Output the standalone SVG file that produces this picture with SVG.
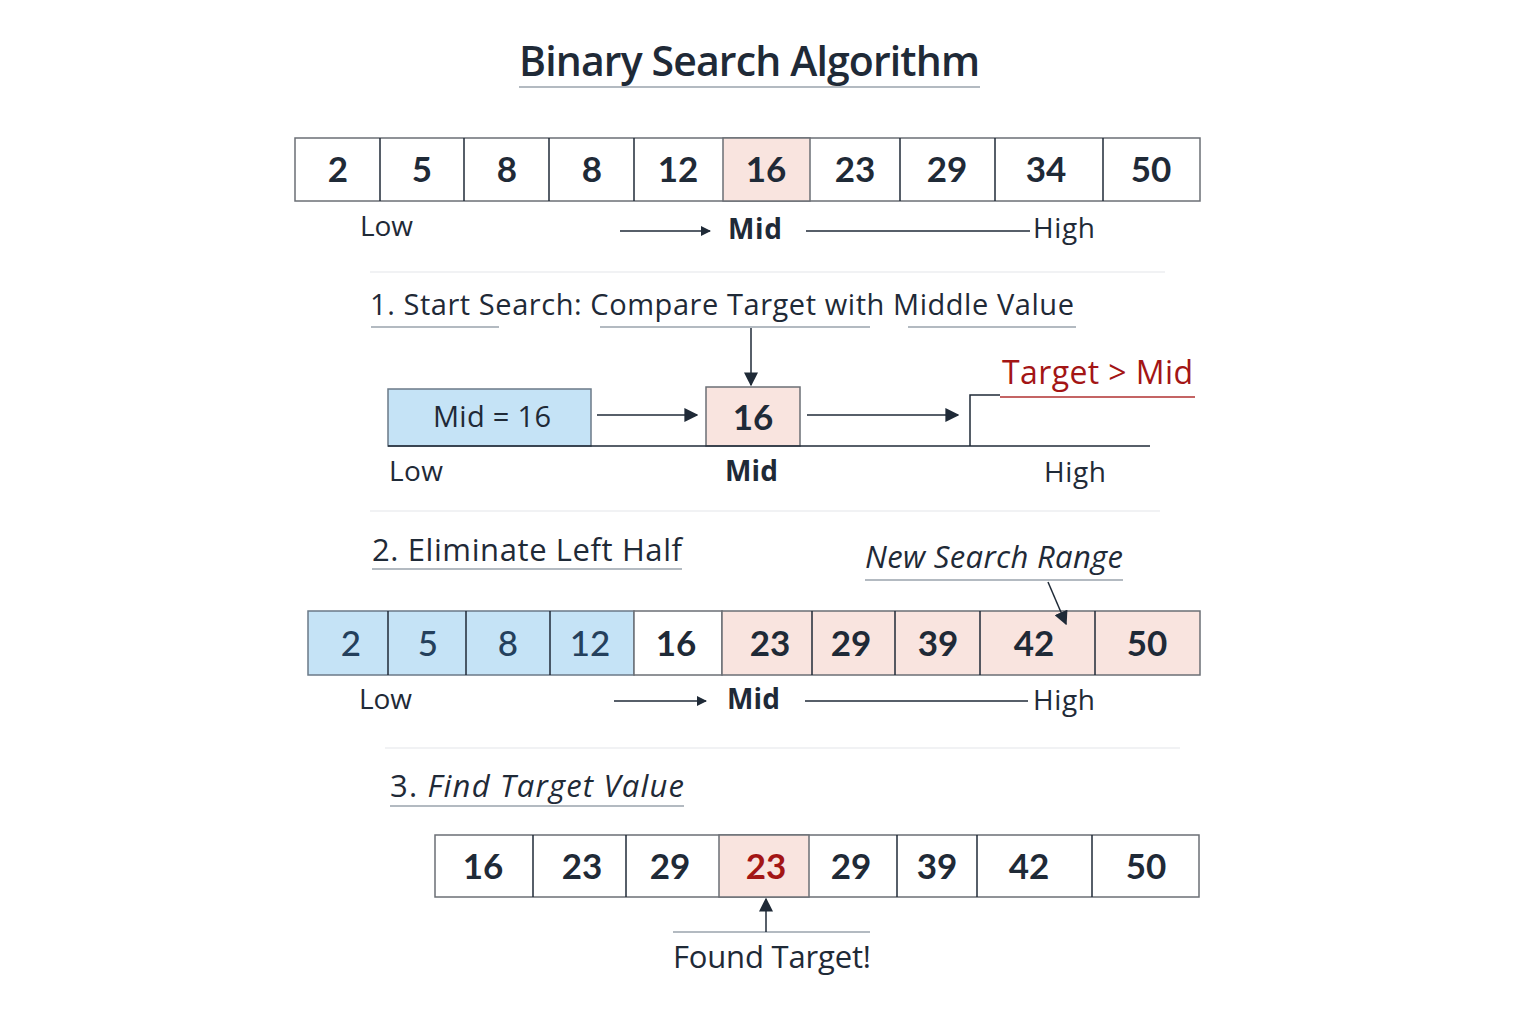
<svg xmlns="http://www.w3.org/2000/svg" width="1536" height="1024" viewBox="0 0 1536 1024">
<defs>
<marker id="ah" viewBox="0 0 10 10" refX="9" refY="5" markerWidth="10" markerHeight="10" markerUnits="userSpaceOnUse" orient="auto"><path d="M0,0 L10,5 L0,10 z" fill="#1f2a37"/></marker>
<marker id="ahb" viewBox="0 0 10 10" refX="9" refY="5" markerWidth="14" markerHeight="14" markerUnits="userSpaceOnUse" orient="auto"><path d="M0,0 L10,5 L0,10 z" fill="#1f2a37"/></marker>
</defs>
<style>
text{font-family:"Open Sans","Noto Sans","Liberation Sans",sans-serif;fill:#1f2a37}
.t{font-size:41px;font-weight:600}
.num{font-family:Lato,"Open Sans",sans-serif;font-size:35px;font-weight:700;text-anchor:middle}
.numb{font-family:Lato,"Open Sans",sans-serif;font-size:35px;font-weight:500;text-anchor:middle;fill:#24405c}
.lab{font-size:28px}
.labb{font-size:28px;font-weight:700}
.h{font-size:29px}
.h2{font-size:31px}
.it{font-style:italic}
.cell{fill:#fff;stroke:#6b6f75;stroke-width:1.5}
.pink{fill:#f9e4df;stroke:#6b6f75;stroke-width:1.5}
.blue{fill:#c5e3f6;stroke:#6b7a88;stroke-width:1.5}
.ln{stroke:#1f2a37;stroke-width:1.5;fill:none}
.ul{stroke:#9aa3ad;stroke-width:1.5;fill:none}
.sep{stroke:#eceef0;stroke-width:1.5}
.red{fill:#a31515}
</style>
<rect width="1536" height="1024" fill="#fff"/>
<g id="title">
<text class="t" x="519" y="76" textLength="461">Binary Search Algorithm</text>
<line class="ul" x1="519" y1="87" x2="980" y2="87" stroke="#a9b7c6"/>
</g>
<g id="row1">
<rect class="cell" x="295" y="138" width="905" height="63"/>
<rect class="pink" x="723" y="138" width="87" height="63"/>
<g class="ln" stroke="#6b6f75">
<line x1="380" y1="138" x2="380" y2="201"/><line x1="464" y1="138" x2="464" y2="201"/><line x1="549" y1="138" x2="549" y2="201"/><line x1="634" y1="138" x2="634" y2="201"/><line x1="900" y1="138" x2="900" y2="201"/><line x1="995" y1="138" x2="995" y2="201"/><line x1="1103" y1="138" x2="1103" y2="201"/>
</g>
<text class="num" x="338" y="182">2</text><text class="num" x="422" y="182">5</text><text class="num" x="507" y="182">8</text><text class="num" x="592" y="182">8</text><text class="num" x="678" y="182">12</text><text class="num" x="766" y="182">16</text><text class="num" x="855" y="182">23</text><text class="num" x="947" y="182">29</text><text class="num" x="1046" y="182">34</text><text class="num" x="1151" y="182">50</text>
<text class="lab" x="360" y="236" textLength="53">Low</text>
<text class="labb" x="728" y="239" textLength="54">Mid</text>
<text class="lab" x="1033" y="238" textLength="62">High</text>
</g>
<line class="sep" x1="370" y1="272" x2="1165" y2="272"/>
<g id="step1">
<text class="h" x="370" y="315" textLength="704">1. Start Search: Compare Target with Middle Value</text>
<g class="ul"><line x1="371" y1="327" x2="499" y2="327"/><line x1="600" y1="327" x2="870" y2="327"/><line x1="908" y1="327" x2="1076" y2="327"/></g>
<rect class="blue" x="388" y="389" width="203" height="57"/>
<text class="h" x="433" y="427" textLength="118">Mid = 16</text>
<rect class="pink" x="706" y="387" width="94" height="59" stroke="#2e3338"/>
<text class="num" x="753" y="430">16</text>
<polyline class="ln" points="1000,395 970,395 970,446" stroke="#8a9096"/>
<line class="ln" x1="388" y1="446" x2="1150" y2="446" stroke="#8a9096"/>
<text class="red" x="1002" y="384" font-size="32" textLength="191">Target &gt; Mid</text>
<line x1="1000" y1="397" x2="1195" y2="397" stroke="#b03030" stroke-width="1.5"/>
<text class="lab" x="389" y="481" textLength="54">Low</text>
<text class="labb" x="725" y="481" textLength="53">Mid</text>
<text class="lab" x="1044" y="482" textLength="62">High</text>
</g>
<line class="sep" x1="370" y1="511" x2="1160" y2="511"/>
<g id="step2">
<text class="h2" x="372" y="561" textLength="310">2. Eliminate Left Half</text>
<line class="ul" x1="372" y1="569" x2="682" y2="569" stroke="#555"/>
<text class="h2 it" x="865" y="568" textLength="258">New Search Range</text>
<line class="ul" x1="865" y1="580" x2="1123" y2="580"/>
<rect class="blue" x="308" y="611" width="326" height="64"/>
<rect class="cell" x="634" y="611" width="88" height="64"/>
<rect class="pink" x="722" y="611" width="478" height="64"/>
<g class="ln" stroke="#6b6f75">
<line x1="388" y1="611" x2="388" y2="675"/><line x1="466" y1="611" x2="466" y2="675"/><line x1="550" y1="611" x2="550" y2="675"/><line x1="812" y1="611" x2="812" y2="675"/><line x1="895" y1="611" x2="895" y2="675"/><line x1="980" y1="611" x2="980" y2="675"/><line x1="1095" y1="611" x2="1095" y2="675"/>
</g>
<text class="numb" x="351" y="656">2</text><text class="numb" x="428" y="656">5</text><text class="numb" x="508" y="656">8</text><text class="numb" x="590" y="656">12</text>
<text class="num" x="676" y="656">16</text><text class="num" x="770" y="656">23</text><text class="num" x="851" y="656">29</text><text class="num" x="938" y="656">39</text><text class="num" x="1034" y="656">42</text><text class="num" x="1147" y="656">50</text>
<text class="lab" x="359" y="709" textLength="53">Low</text>
<text class="labb" x="727" y="709" textLength="53">Mid</text>
<text class="lab" x="1033" y="710" textLength="62">High</text>
</g>
<line class="sep" x1="385" y1="748" x2="1180" y2="748"/>
<g id="step3">
<text class="h2" x="390" y="797" textLength="294">3. <tspan class="it">Find Target Value</tspan></text>
<line class="ul" x1="390" y1="806" x2="684" y2="806"/>
<rect class="cell" x="435" y="835" width="764" height="62"/>
<rect class="pink" x="719" y="835" width="90" height="62"/>
<g class="ln" stroke="#6b6f75">
<line x1="533" y1="835" x2="533" y2="897"/><line x1="626" y1="835" x2="626" y2="897"/><line x1="897" y1="835" x2="897" y2="897"/><line x1="977" y1="835" x2="977" y2="897"/><line x1="1092" y1="835" x2="1092" y2="897"/>
</g>
<text class="num" x="483" y="879">16</text><text class="num" x="582" y="879">23</text><text class="num" x="670" y="879">29</text><text class="num red" x="766" y="879">23</text><text class="num" x="851" y="879">29</text><text class="num" x="937" y="879">39</text><text class="num" x="1029" y="879">42</text><text class="num" x="1146" y="879">50</text>
<line class="ul" x1="673" y1="932" x2="870" y2="932"/>
<text class="h2" x="673" y="968" textLength="198">Found Target!</text>
</g>
<g id="connectors">
<line class="ln" x1="620" y1="231" x2="710" y2="231" marker-end="url(#ah)"/>
<line class="ln" x1="806" y1="231" x2="1030" y2="231"/>
<line class="ln" x1="751" y1="328" x2="751" y2="385" marker-end="url(#ahb)"/>
<line class="ln" x1="597" y1="415" x2="697" y2="415" marker-end="url(#ahb)"/>
<line class="ln" x1="807" y1="415" x2="958" y2="415" marker-end="url(#ahb)"/>
<line class="ln" x1="1048" y1="582" x2="1066" y2="624" stroke-width="2" marker-end="url(#ahb)"/>
<line class="ln" x1="614" y1="701" x2="706" y2="701" marker-end="url(#ah)"/>
<line class="ln" x1="805" y1="701" x2="1028" y2="701"/>
<line class="ln" x1="766" y1="932" x2="766" y2="899" marker-end="url(#ahb)"/>
</g>
</svg>
